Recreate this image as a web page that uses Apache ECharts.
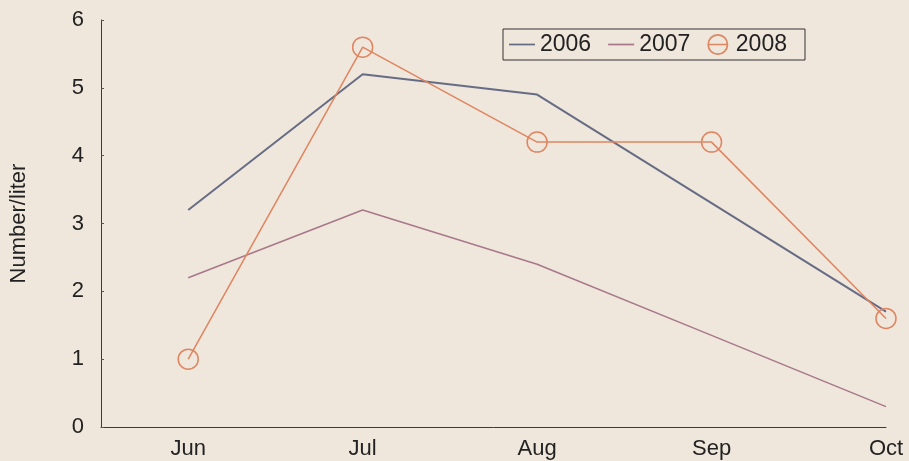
<!DOCTYPE html>
<html>
<head>
<meta charset="utf-8">
<script src="https://cdn.jsdelivr.net/npm/echarts@6/dist/echarts.min.js"></script>
<style>
  html, body { margin: 0; padding: 0; background: #efe6dc; }
  #chart { width: 909px; height: 461px; }
</style>
</head>
<body>
<div id="chart"></div>
<script>
// Monthly densities (Number/liter), one array per year
const months = ['Jun', 'Jul', 'Aug', 'Sep', 'Oct'];
const yTicks = [0, 1, 2, 3, 4, 5, 6];
const s2006 = [3.2, 5.2, 4.9, 3.3, 1.7];
const s2007 = [2.2, 3.2, 2.4, 1.35, 0.3];
const s2008 = [1.0, 5.6, 4.2, 4.2, 1.6];

const font = 'Arial, "Liberation Sans", sans-serif';
const toPairs = arr => arr.map((v, i) => [i + 1, v]);
const c2006 = '#676c85', c2007 = '#a8788a', c2008 = '#df8560';

// legend glyphs: a plain dash, and a ring crossed by a dash
const lineIcon = 'path://M0,0 L30,0 L30,2 L0,2 Z';
const ringIcon = 'path://M0,10 A10,10 0 1,1 20,10 A10,10 0 1,1 0,10 Z ' +
                 'M1.6,10 A8.4,8.4 0 1,0 18.4,10 A8.4,8.4 0 1,0 1.6,10 Z ' +
                 'M1.6,9.3 L18.4,9.3 L18.4,10.7 L1.6,10.7 Z';

const chart = echarts.init(document.getElementById('chart'), null, { renderer: 'canvas' });
chart.setOption({
  backgroundColor: '#efe6dc',
  animation: false,
  grid: { left: 101, right: 23, top: 20, bottom: 34 },
  legend: {
    left: 503, top: 29,
    orient: 'horizontal',
    borderColor: '#333',
    borderWidth: 1,
    padding: [4, 18, 4, 6],
    itemGap: 17,
    itemWidth: 26,
    itemHeight: 21,
    textStyle: { fontFamily: font, fontSize: 23, color: '#222' },
    data: [
      { name: '2006', icon: lineIcon, itemStyle: { color: c2006, borderWidth: 0 } },
      { name: '2007', icon: lineIcon, itemStyle: { color: c2007, borderWidth: 0 } },
      { name: '2008', icon: ringIcon, itemStyle: { color: c2008, borderWidth: 0 } }
    ]
  },
  xAxis: {
    type: 'value',
    min: 0.5, max: 5,
    interval: 0.5,
    splitLine: { show: false },
    axisTick: { show: false },
    axisLine: { lineStyle: { color: '#3a3a3a', width: 1 } },
    axisLabel: {
      fontFamily: font, fontSize: 22, color: '#222', margin: 11,
      formatter: v => Number.isInteger(v) ? months[v - 1] : '',
      showMinLabel: false
    }
  },
  yAxis: {
    type: 'value',
    min: yTicks[0], max: yTicks[yTicks.length - 1], interval: 1,
    name: 'Number/liter',
    nameLocation: 'middle',
    nameGap: 71,
    nameRotate: 90,
    nameTextStyle: { fontFamily: font, fontSize: 22, color: '#222' },
    splitLine: { show: false },
    axisLine: { show: true, lineStyle: { color: '#3a3a3a', width: 1 } },
    axisTick: { show: true, inside: true, length: 3, lineStyle: { color: '#555' } },
    axisLabel: { fontFamily: font, fontSize: 22, color: '#222', margin: 17 }
  },
  series: [
    {
      name: '2006', type: 'line', data: toPairs(s2006),
      symbol: 'none', z: 3,
      lineStyle: { color: c2006, width: 2 },
      itemStyle: { color: c2006 }
    },
    {
      name: '2007', type: 'line', data: toPairs(s2007),
      symbol: 'none', z: 2,
      lineStyle: { color: c2007, width: 1.5 },
      itemStyle: { color: c2007 }
    },
    {
      name: '2008', type: 'line', data: toPairs(s2008),
      symbol: 'circle', symbolSize: 20, z: 4,
      lineStyle: { color: c2008, width: 1.5 },
      itemStyle: { color: 'rgba(0,0,0,0)', borderColor: c2008, borderWidth: 1.5 }
    }
  ]
});
</script>
</body>
</html>
